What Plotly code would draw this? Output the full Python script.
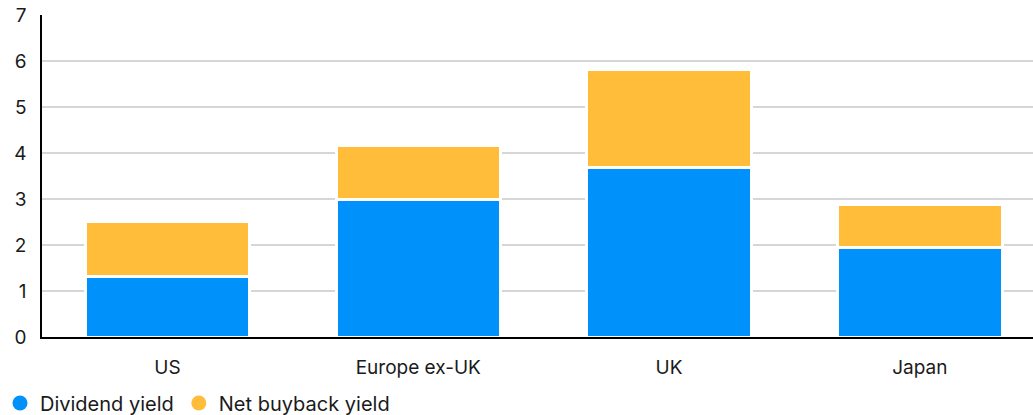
import plotly.graph_objects as go

categories = ["US", "Europe ex-UK", "UK", "Japan"]
dividend_yield = [1.32, 3.0, 3.68, 1.95]
net_buyback_yield = [1.2, 1.16, 2.13, 0.94]
y_ticks = [0, 1, 2, 3, 4, 5, 6, 7]

BLUE = "#0092FA"
ORANGE = "#FFBD39"
FONT = "Inter"

fig = go.Figure()
fig.add_trace(go.Bar(x=categories, y=dividend_yield, name="Dividend yield",
                     marker=dict(color=BLUE, line=dict(color="white", width=3)),
                     width=0.655, showlegend=False))
fig.add_trace(go.Bar(x=categories, y=net_buyback_yield, name="Net buyback yield",
                     marker=dict(color=ORANGE, line=dict(color="white", width=3)),
                     width=0.655, showlegend=False))
# legend entries with circle markers
fig.add_trace(go.Scatter(x=[None], y=[None], mode="markers", name="Dividend yield",
                         marker=dict(color=BLUE, size=15, symbol="circle")))
fig.add_trace(go.Scatter(x=[None], y=[None], mode="markers", name="Net buyback yield",
                         marker=dict(color=ORANGE, size=15, symbol="circle")))

fig.update_layout(
    width=1033, height=415,
    barmode="stack",
    margin=dict(l=42, r=0, t=15, b=78),
    paper_bgcolor="white", plot_bgcolor="white",
    font=dict(family=FONT, size=19, color="#1a1a1a"),
    legend=dict(orientation="h", x=0.0, xref="container", xanchor="left",
                y=0.029, yref="container", yanchor="middle",
                font=dict(size=20, color="#1a1a1a"), itemwidth=30,
                traceorder="normal"),
    xaxis=dict(type="category", range=[-0.5, 3.451], showline=True, linecolor="#000000",
               linewidth=1.5, showgrid=False, ticks="", ticklabelstandoff=12,
               tickfont=dict(size=19)),
    yaxis=dict(range=[0, 7], tickvals=y_ticks, showline=True, linecolor="#000000",
               linewidth=1.5, showgrid=True, gridcolor="#d6d6d6", gridwidth=1.5,
               zeroline=False, ticks="", ticklabelstandoff=10,
               tickfont=dict(size=19)),
)

fig.write_html("out.html")
